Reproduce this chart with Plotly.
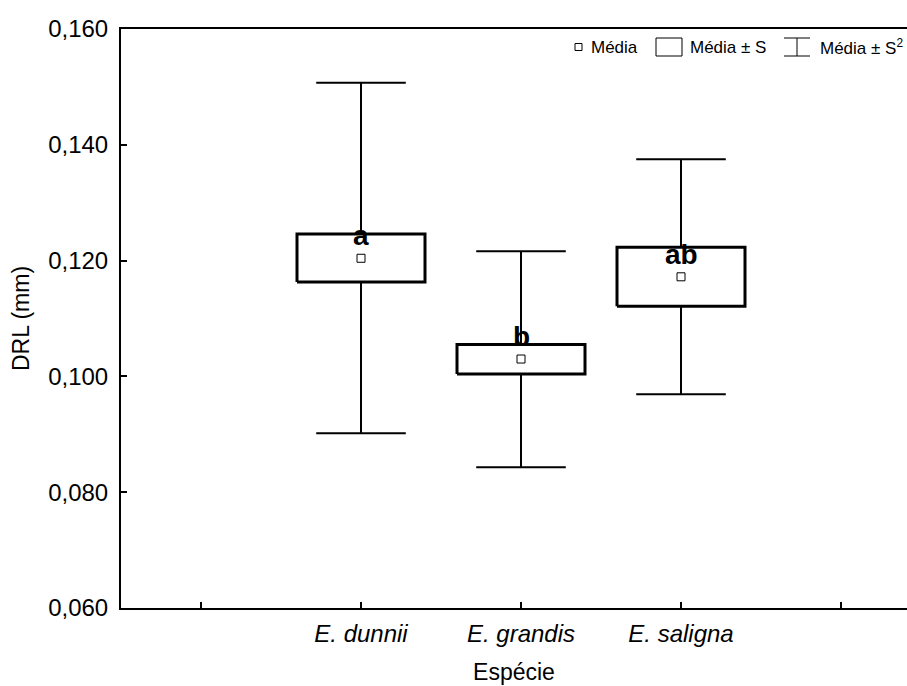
import plotly.graph_objects as go

# Wood fibre lumen diameter (DRL) by Eucalyptus species
species = ["E. dunnii", "E. grandis", "E. saligna"]
media = [0.1204, 0.1030, 0.1172]
media_mais_s = [0.1246, 0.1055, 0.1223]
media_menos_s = [0.1163, 0.1004, 0.1121]
media_mais_s2 = [0.1507, 0.1216, 0.1375]
media_menos_s2 = [0.0902, 0.0843, 0.0969]
grupos = ["a", "b", "ab"]
grupos_y = [0.1213, 0.1038, 0.1180]

y_ticks = [0.060, 0.080, 0.100, 0.120, 0.140, 0.160]
y_tick_labels = ["0,060", "0,080", "0,100", "0,120", "0,140", "0,160"]
x_ticks = [0, 1, 2, 3, 4]
x_tick_labels = [""] + species + [""]

FONT = "Liberation Sans, Arial, sans-serif"
W, H = 907, 686
ML, MR, MT, MB = 121, 0, 29, 78
BOX_HALF = 0.40
CAP_HALF = 0.28

fig = go.Figure()
xs = [1, 2, 3]

for i, x in enumerate(xs):
    lo2, hi2 = media_menos_s2[i], media_mais_s2[i]
    lo, hi = media_menos_s[i], media_mais_s[i]
    # whisker stem and caps
    fig.add_trace(go.Scatter(
        x=[x, x, None, x - CAP_HALF, x + CAP_HALF, None, x - CAP_HALF, x + CAP_HALF],
        y=[lo2, hi2, None, hi2, hi2, None, lo2, lo2],
        mode="lines", line=dict(color="black", width=2),
        hoverinfo="skip", showlegend=False))
    # mean ± S box
    fig.add_trace(go.Scatter(
        x=[x - BOX_HALF, x + BOX_HALF, x + BOX_HALF, x - BOX_HALF, x - BOX_HALF],
        y=[lo, lo, hi, hi, lo],
        mode="lines", fill="toself", fillcolor="white",
        line=dict(color="black", width=3),
        hoverinfo="skip", showlegend=False))

# means
fig.add_trace(go.Scatter(
    x=xs, y=media, mode="markers",
    marker=dict(symbol="square-open", size=8, color="black", line=dict(width=1)),
    showlegend=False))

# significance letters
for x, g, gy in zip(xs, grupos, grupos_y):
    fig.add_annotation(x=x, y=gy, text=f"<b>{g}</b>", showarrow=False,
                       xanchor="center", yanchor="bottom",
                       font=dict(family=FONT, size=28, color="black"))

# hand-built legend in pixel space
pw, ph = W - ML - MR, H - MT - MB
def px(xp):
    return (xp - ML) / pw
def py(yp):
    return (H - MB - yp) / ph

ly = 47
lfont = dict(family=FONT, size=17, color="black")
fig.add_shape(type="rect", xref="paper", yref="paper",
              x0=px(575), x1=px(582), y0=py(ly + 3.5), y1=py(ly - 3.5),
              line=dict(color="black", width=1), fillcolor="white")
fig.add_annotation(xref="paper", yref="paper", x=px(589), y=py(ly), text="Média",
                   showarrow=False, xanchor="left", yanchor="middle", font=lfont)
fig.add_shape(type="rect", xref="paper", yref="paper",
              x0=px(656), x1=px(682), y0=py(ly + 9), y1=py(ly - 9),
              line=dict(color="black", width=1), fillcolor="white")
fig.add_annotation(xref="paper", yref="paper", x=px(688), y=py(ly), text="Média ± S",
                   showarrow=False, xanchor="left", yanchor="middle", font=lfont)
fig.add_shape(type="line", xref="paper", yref="paper",
              x0=px(784), x1=px(810), y0=py(ly - 9), y1=py(ly - 9),
              line=dict(color="black", width=1))
fig.add_shape(type="line", xref="paper", yref="paper",
              x0=px(784), x1=px(810), y0=py(ly + 9), y1=py(ly + 9),
              line=dict(color="black", width=1))
fig.add_shape(type="line", xref="paper", yref="paper",
              x0=px(797), x1=px(797), y0=py(ly - 9), y1=py(ly + 9),
              line=dict(color="black", width=1))
fig.add_annotation(xref="paper", yref="paper", x=px(818), y=py(ly), text="Média ± S<sup>2</sup>",
                   showarrow=False, xanchor="left", yanchor="middle", font=lfont)

fig.update_layout(
    width=W, height=H,
    margin=dict(l=ML, r=MR, t=MT, b=MB, pad=0),
    paper_bgcolor="white", plot_bgcolor="white",
    font=dict(family=FONT, color="black"),
    xaxis=dict(
        range=[-0.5, 4.4125], tickvals=x_ticks, ticktext=x_tick_labels,
        ticks="inside", ticklen=6, tickwidth=1.5, tickcolor="black",
        showline=True, linewidth=2, linecolor="black", mirror=True,
        showgrid=False, zeroline=False,
        tickfont=dict(family=FONT, size=24, style="italic"),
        ticklabelstandoff=3,
        title=dict(text="Espécie", font=dict(family=FONT, size=23), standoff=18),
    ),
    yaxis=dict(
        range=[0.060, 0.160], tickvals=y_ticks, ticktext=y_tick_labels,
        ticks="inside", ticklen=6, tickwidth=1.5, tickcolor="black",
        showline=True, linewidth=2, linecolor="black",
        showgrid=False, zeroline=False,
        tickfont=dict(family=FONT, size=24),
        ticklabelstandoff=6,
        title=dict(text="DRL (mm)", font=dict(family=FONT, size=23), standoff=12),
    ),
)

fig.write_html("out.html")
